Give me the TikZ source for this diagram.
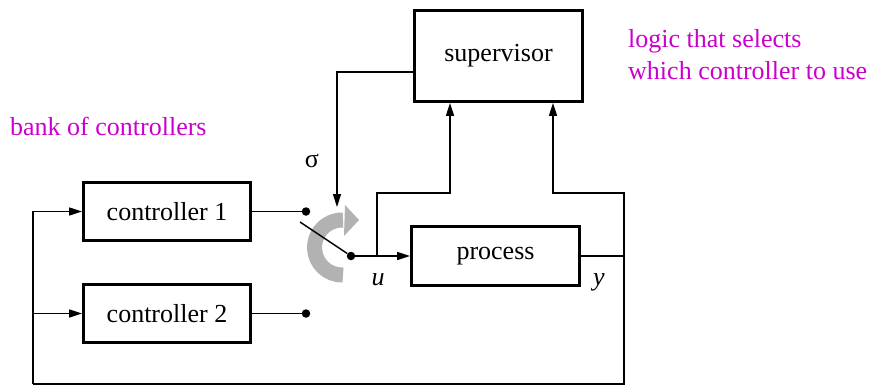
\documentclass[tikz,border=0pt]{standalone}
\usepackage{fontspec}
\setmainfont{Liberation Serif}
\newfontfamily\tnrfont{Liberation Serif}
\usetikzlibrary{arrows.meta}
\definecolor{lblmag}{RGB}{204,0,204}
\definecolor{swgray}{RGB}{178,178,178}
\begin{document}
\begin{tikzpicture}[x=1pt,y=-1pt,
  font=\tnrfont\fontsize{26}{32}\selectfont,
  blk/.style={draw,line width=2.8pt,rectangle,inner sep=0pt},
  conn/.style={line width=1.4pt},
  arr/.style={conn,-{Triangle[length=13pt,width=8pt]}},
  dotnode/.style={circle,fill,inner sep=0pt,minimum size=8.5pt},
  lbl/.style={text=lblmag,inner sep=0pt}]
\useasboundingbox (0,0) rectangle (877,386);
% blocks
\node[blk,minimum width=167pt,minimum height=58pt] (c1) at (167,211.5) {controller 1};
\node[blk,minimum width=167pt,minimum height=58pt] (c2) at (167,313.5) {controller 2};
\node[blk,minimum width=168pt,minimum height=91pt] (sup) at (498.5,56) {supervisor};
\node[blk,minimum width=168pt,minimum height=59pt] (proc) at (495.5,256) {process};
% grey rotation arrow
\draw[swgray,line width=15pt] (343,275) arc[start angle=88,end angle=272,radius=27.5];
\fill[swgray] (345,205) -- (359,220) -- (344,236) -- cycle;
% switch
\node[dotnode] (d1) at (306,211.5) {};
\node[dotnode] (d2) at (306,313.5) {};
\node[dotnode] (pv) at (351,256) {};
\coordinate (swend) at (300,222);
% coordinates
\coordinate (bu) at (377,256);
\coordinate (ku) at (450,193);
\coordinate (yr) at (624,256);
\coordinate (ky) at (553,193);
\coordinate (bl) at (33,384);
\coordinate (sg) at (337,72);
% connectors
\draw[conn] (c1.east) -- (d1);
\draw[conn] (c2.east) -- (d2);
\draw[conn] (swend) -- (pv);
\draw[arr] (pv) -- (proc.west);
\draw[arr] (bu) |- (ku) -- (ku |- sup.south);
\draw[conn] (proc.east) -- (yr);
\draw[arr] (yr) |- (ky) -- (ky |- sup.south);
\draw[conn] (yr) |- (bl);
\draw[arr] (bl) |- (c1.west);
\draw[arr] (bl |- c2.west) -- (c2.west);
\draw[arr] (sup.west |- sg) -- (sg) -- (337,207);
% labels
\node[anchor=base,inner sep=0pt] (sig) at (312,167) {σ};
\node[anchor=base,inner sep=0pt] (ul) at (378,285) {\itshape u};
\node[anchor=base,inner sep=0pt] (yl) at (599,285) {\itshape y};
\node[lbl,anchor=base west] (bank) at (10,135) {bank of controllers};
\node[lbl,anchor=base west,align=left] (logic) at (628,79) {logic that selects\\which controller to use};
\end{tikzpicture}
\end{document}
